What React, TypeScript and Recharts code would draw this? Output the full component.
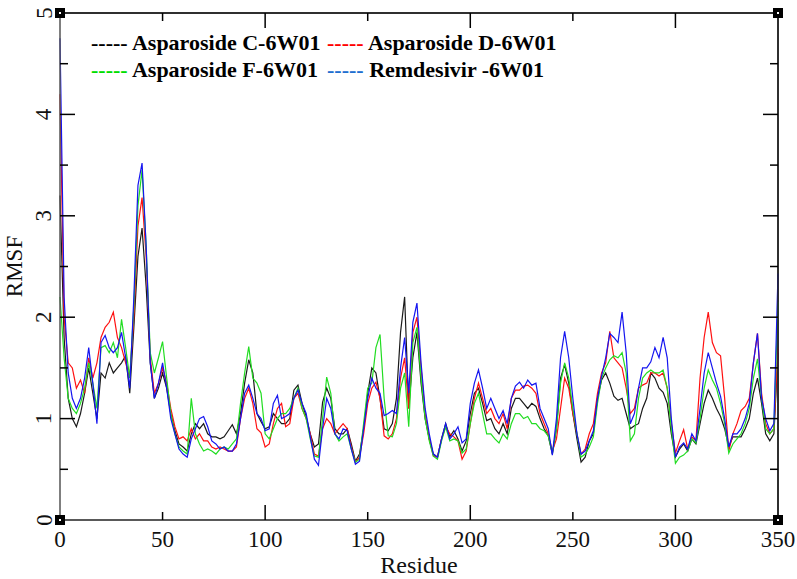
import { LineChart, Line, XAxis, YAxis, Legend, ReferenceDot, ReferenceLine } from "recharts";

const residues = [
  0, 2, 4, 6, 8, 10, 12, 14, 16, 18, 20, 22, 24,
  26, 28, 30, 32, 34, 36, 38, 40, 42, 44, 46, 48, 50,
  52, 54, 56, 58, 60, 62, 64, 66, 68, 70, 72, 74,
  76, 78, 80, 82, 84, 86, 88, 90, 92, 94, 96, 98,
  100, 102, 104, 106, 108, 110, 112, 114, 116, 118, 120, 122,
  124, 126, 128, 130, 132, 134, 136, 138, 140, 142, 144, 146,
  148, 150, 152, 154, 156, 158, 160, 162, 164, 166, 168, 170,
  172, 174, 176, 178, 180, 182, 184, 186, 188, 190, 192, 194,
  196, 198, 200, 202, 204, 206, 208, 210, 212, 214, 216, 218,
  220, 222, 224, 226, 228, 230, 232, 234, 236, 238, 240, 242,
  244, 246, 248, 250, 252, 254, 256, 258, 260, 262, 264, 266,
  268, 270, 272, 274, 276, 278, 280, 282, 284, 286, 288, 290,
  292, 294, 296, 298, 300, 302, 304, 306, 308, 310, 312, 314,
  316, 318, 320, 322, 324, 326, 328, 330, 332, 334, 336, 338,
  340, 342, 344, 346, 348, 350,
];

// Asparoside C-6W01 (black)
const aspC = [
  3.2, 1.8, 1.2, 1.0, 0.92, 1.05, 1.25, 1.5, 1.25, 1.0, 1.45, 1.4, 1.55,
  1.45, 1.5, 1.55, 1.62, 1.25, 1.9, 2.6, 2.88, 2.3, 1.55, 1.2, 1.3, 1.45,
  1.3, 1.05, 0.88, 0.75, 0.72, 0.68, 0.85, 0.95, 0.9, 0.95, 0.85, 0.82,
  0.82, 0.8, 0.82, 0.88, 0.94, 0.85, 1.05, 1.35, 1.58, 1.45, 1.05, 0.97,
  0.9, 0.92, 1.05, 1.0, 0.95, 0.95, 1.0, 1.28, 1.33, 1.15, 1.02, 0.85,
  0.72, 0.75, 1.16, 1.3, 1.2, 0.9, 0.85, 0.85, 0.9, 0.75, 0.58, 0.65,
  0.9, 1.25, 1.5, 1.45, 1.2, 0.9, 0.88, 0.95, 1.2, 1.85, 2.2, 1.1,
  1.6, 1.85, 1.35, 1.0, 0.8, 0.65, 0.62, 0.8, 0.95, 0.82, 0.88, 0.8,
  0.68, 0.78, 1.05, 1.25, 1.3, 1.15, 0.98, 1.0, 0.9, 0.85, 0.95, 0.85,
  1.1, 1.2, 1.2, 1.15, 1.1, 1.15, 1.12, 1.0, 0.9, 0.83, 0.65, 0.9,
  1.4, 1.53, 1.35, 1.05, 0.8, 0.57, 0.62, 0.78, 0.85, 1.2, 1.38, 1.45,
  1.35, 1.22, 1.18, 1.2, 1.05, 0.9, 0.93, 0.95, 1.1, 1.2, 1.45, 1.4,
  1.3, 1.26, 1.15, 0.85, 0.62, 0.7, 0.75, 0.68, 0.8, 0.75, 0.95, 1.15,
  1.28, 1.2, 1.1, 1.02, 0.9, 0.72, 0.82, 0.82, 0.82, 0.9, 1.0, 1.25,
  1.4, 1.15, 0.85, 0.78, 0.85, 1.65,
];

// Asparoside D-6W01 (red)
const aspD = [
  4.2, 2.0, 1.55, 1.5, 1.3, 1.38, 1.25, 1.6, 1.4, 1.55, 1.8, 1.9, 1.95,
  2.05, 1.8, 1.7, 1.55, 1.4, 2.0, 2.9, 3.18, 2.6, 1.6, 1.25, 1.35, 1.5,
  1.35, 1.1, 0.92, 0.8, 0.82, 0.78, 0.9, 0.8, 0.85, 0.78, 0.78, 0.72,
  0.7, 0.72, 0.7, 0.68, 0.68, 0.72, 1.0, 1.2, 1.3, 1.15, 0.9, 0.86,
  0.72, 0.75, 0.95, 1.1, 1.15, 0.92, 0.95, 1.2, 1.25, 1.1, 1.0, 0.85,
  0.65, 0.63, 0.9, 1.0, 0.95, 0.85, 0.9, 0.95, 0.9, 0.72, 0.57, 0.62,
  0.85, 1.15, 1.3, 1.36, 1.2, 0.83, 0.8, 0.85, 1.0, 1.4, 1.6, 1.1,
  1.85, 2.0, 1.5, 1.05, 0.8, 0.63, 0.62, 0.8, 0.92, 0.85, 0.82, 0.78,
  0.6, 0.68, 0.95, 1.2, 1.35, 1.2, 1.05, 1.1, 1.0, 0.95, 1.05, 0.9,
  1.2, 1.28, 1.28, 1.32, 1.33, 1.3, 1.25, 1.05, 0.95, 0.85, 0.68, 0.8,
  1.1, 1.4, 1.3, 1.05, 0.85, 0.65, 0.7, 0.85, 0.95, 1.25, 1.45, 1.55,
  1.86, 1.6, 1.55, 1.5, 1.3, 1.05, 1.1, 1.3, 1.33, 1.35, 1.45, 1.45,
  1.42, 1.45, 1.3, 0.95, 0.66, 0.78, 0.89, 0.7, 0.82, 0.78, 1.4, 1.8,
  2.05, 1.75, 1.65, 1.62, 1.2, 0.68, 0.85, 0.95, 1.08, 1.12, 1.2, 1.55,
  1.84, 1.25, 0.95, 0.85, 0.9, 1.7,
];

// Asparoside F-6W01 (green)
const aspF = [
  2.2, 1.6, 1.2, 1.1, 1.05, 1.15, 1.3, 1.55, 1.35, 1.1, 1.7, 1.72, 1.65,
  1.75, 1.6, 1.98, 1.7, 1.4, 2.1, 3.1, 3.45, 2.7, 1.65, 1.45, 1.6, 1.76,
  1.4, 1.05, 0.85, 0.72, 0.68, 0.65, 1.2, 0.85, 0.75, 0.68, 0.7, 0.68,
  0.65, 0.7, 0.72, 0.7, 0.75, 0.8, 1.15, 1.45, 1.71, 1.4, 1.35, 1.25,
  0.85, 0.8, 0.9, 1.0, 1.05, 1.05, 1.1, 1.2, 1.3, 1.1, 1.0, 0.8,
  0.63, 0.62, 1.0, 1.41, 1.25, 0.85, 0.78, 0.82, 0.85, 0.7, 0.57, 0.6,
  0.95, 1.3, 1.35, 1.7, 1.83, 1.2, 0.83, 0.82, 0.95, 1.3, 1.45, 0.92,
  1.75, 1.9, 1.4, 1.0, 0.78, 0.63, 0.6, 0.78, 0.92, 0.78, 0.8, 0.78,
  0.66, 0.7, 0.95, 1.15, 1.25, 1.05, 0.85, 0.85, 0.8, 0.76, 0.85, 0.8,
  0.95, 1.05, 1.05, 1.0, 1.02, 0.95, 0.95, 0.9, 0.88, 0.83, 0.66, 0.9,
  1.35, 1.55, 1.4, 1.1, 0.85, 0.62, 0.65, 0.72, 0.82, 1.15, 1.4, 1.5,
  1.58, 1.62, 1.6, 1.65, 1.45, 0.78, 0.85, 1.2, 1.4, 1.45, 1.48, 1.45,
  1.45, 1.48, 1.3, 0.9, 0.56, 0.62, 0.64, 0.68, 0.8, 0.76, 1.0, 1.3,
  1.48, 1.38, 1.3, 1.15, 0.95, 0.66, 0.75, 0.8, 0.85, 0.95, 1.1, 1.4,
  1.59, 1.2, 0.9, 0.85, 0.9, 2.15,
];

// Remdesivir -6W01 (blue)
const remd = [
  4.75, 2.2, 1.45, 1.2, 1.1, 1.2, 1.4, 1.7, 1.35, 0.95, 1.75, 1.82, 1.7,
  1.65, 1.7, 1.85, 1.6, 1.3, 2.2, 3.3, 3.52, 2.7, 1.55, 1.2, 1.35, 1.55,
  1.3, 1.0, 0.85, 0.7, 0.65, 0.62, 0.8, 0.9, 1.0, 1.02, 0.92, 0.78,
  0.75, 0.7, 0.72, 0.68, 0.68, 0.75, 1.0, 1.25, 1.33, 1.2, 1.05, 1.0,
  0.88, 0.9, 1.15, 1.23, 1.0, 1.02, 1.05, 1.2, 1.28, 1.15, 1.05, 0.82,
  0.6, 0.54, 0.9, 1.2, 1.1, 0.85, 0.8, 0.9, 0.88, 0.7, 0.55, 0.58,
  0.9, 1.2, 1.4, 1.3, 1.25, 1.03, 1.05, 1.08, 1.05, 1.5, 1.8, 1.25,
  1.95, 2.14, 1.55, 1.1, 0.85, 0.65, 0.62, 0.8, 0.95, 0.8, 0.85, 0.92,
  0.76, 0.8, 1.15, 1.35, 1.48, 1.3, 1.1, 1.2, 1.1, 1.0, 1.08, 0.95,
  1.2, 1.32, 1.36, 1.3, 1.38, 1.33, 1.35, 1.1, 1.0, 0.9, 0.64, 1.0,
  1.6, 1.86, 1.6, 1.2, 0.85, 0.65, 0.68, 0.78, 0.88, 1.2, 1.42, 1.6,
  1.84, 1.8, 1.75, 2.05, 1.65, 0.95, 1.05, 1.3, 1.5, 1.5, 1.56, 1.7,
  1.6, 1.8, 1.6, 1.0, 0.62, 0.72, 0.76, 0.7, 0.85, 0.78, 1.1, 1.45,
  1.65, 1.5, 1.35, 1.22, 1.0, 0.72, 0.85, 0.85, 0.9, 1.0, 1.15, 1.55,
  1.84, 1.2, 1.0, 0.88, 0.95, 2.43,
];

const xTicks = [0, 50, 100, 150, 200, 250, 300, 350];
const yTicks = [0, 0.5, 1, 1.5, 2, 2.5, 3, 3.5, 4, 4.5, 5];

const series = [
  { key: "c", name: "Asparoside C-6W01", color: "#1a1a1a", legendColor: "#000000" },
  { key: "d", name: "Asparoside D-6W01", color: "#ff1010", legendColor: "#ff0000" },
  { key: "f", name: "Asparoside F-6W01", color: "#22dd22", legendColor: "#00dd00" },
  { key: "r2", name: "Remdesivir -6W01", color: "#1515f0", legendColor: "#1f6fd0" },
];

const data = residues.map((r, i) => ({ r, c: aspC[i], d: aspD[i], f: aspF[i], r2: remd[i] }));

const FONT = "'Liberation Serif', 'Times New Roman', serif";
const AXIS = "#222";

// chart box: 797x579, margin top 12 + top axis 1, right 18 + right axis 1, left axis 60, bottom axis 59
const PLOT = { left: 60, right: 778, top: 13, bottom: 520 };
const X_MAX = 350;
const Y_MAX = 5;
const px = (v: number) => PLOT.left + (v / X_MAX) * (PLOT.right - PLOT.left);
const py = (v: number) => PLOT.bottom - (v / Y_MAX) * (PLOT.bottom - PLOT.top);

const innerX = xTicks.filter((v) => v > 0 && v < X_MAX);
const innerY = yTicks.filter((v) => v > 0 && v < Y_MAX);
const xTickLen = (v: number) => (v % 100 === 0 ? 15 : 8);
const yTickLen = (v: number) => (Number.isInteger(v) ? 15 : 8);

function BottomTick({ x, y, payload }: any) {
  return (
    <text x={x} y={y + 27} textAnchor="middle" fontFamily={FONT} fontSize={23} fill="#111">
      {payload.value}
    </text>
  );
}

function LeftTick({ x, y, payload }: any) {
  const v = payload.value;
  if (!Number.isInteger(v)) return <g />;
  return (
    <text
      x={x - 16}
      y={y}
      transform={`rotate(-90, ${x - 16}, ${y})`}
      textAnchor="middle"
      dominantBaseline="central"
      fontFamily={FONT}
      fontSize={23}
      fill="#111"
    >
      {v}
    </text>
  );
}

function CornerSquare({ cx, cy }: any) {
  return (
    <g>
      <rect x={cx - 5} y={cy - 5} width={10} height={10} fill="#000" />
      <rect x={cx - 1} y={cy - 1} width={2} height={2} fill="#fff" />
    </g>
  );
}

function LegendBox() {
  return (
    <div
      style={{
        display: "grid",
        gridTemplateColumns: "236px auto",
        fontFamily: FONT,
        fontWeight: "bold",
        fontSize: 22,
        lineHeight: "27px",
        color: "#000",
        whiteSpace: "nowrap",
      }}
    >
      {series.map((s) => (
        <div key={s.key}>
          <span style={{ color: s.legendColor }}>-----</span> {s.name}
        </div>
      ))}
    </div>
  );
}

// inward tick marks on all four sides of the frame
function FrameTicks() {
  return (
    <svg
      width={797}
      height={579}
      style={{ position: "absolute", left: 0, top: 0, pointerEvents: "none" }}
    >
      <g stroke="#000" strokeWidth={1.5}>
        {innerX.map((v) => (
          <line key={`b${v}`} x1={px(v)} y1={PLOT.bottom} x2={px(v)} y2={PLOT.bottom - xTickLen(v)} />
        ))}
        {innerX.map((v) => (
          <line key={`t${v}`} x1={px(v)} y1={PLOT.top} x2={px(v)} y2={PLOT.top + xTickLen(v)} />
        ))}
        {innerY.map((v) => (
          <line key={`l${v}`} x1={PLOT.left} y1={py(v)} x2={PLOT.left + yTickLen(v)} y2={py(v)} />
        ))}
        {innerY.map((v) => (
          <line key={`r${v}`} x1={PLOT.right} y1={py(v)} x2={PLOT.right - yTickLen(v)} y2={py(v)} />
        ))}
      </g>
    </svg>
  );
}

export default function App() {
  return (
    <div style={{ position: "absolute", left: 0, top: 0, width: 797, height: 579, background: "#fff" }}>
      <LineChart
        width={797}
        height={579}
        data={data}
        margin={{ top: 12, right: 18, bottom: 0, left: 0 }}
      >
        <XAxis
          xAxisId="bottom"
          dataKey="r"
          type="number"
          domain={[0, X_MAX]}
          ticks={xTicks}
          height={59}
          tickSize={0}
          tickMargin={0}
          tickLine={false}
          tick={<BottomTick />}
          axisLine={{ stroke: AXIS, strokeWidth: 1.5 }}
          interval={0}
          label={{
            content: (props: any) => {
              const vb = props.viewBox;
              return (
                <text x={vb.x + vb.width / 2} y={vb.y + 53} textAnchor="middle" fontFamily={FONT} fontSize={24} fill="#111">
                  Residue
                </text>
              );
            },
          }}
        />
        <XAxis
          xAxisId="top"
          orientation="top"
          dataKey="r"
          type="number"
          domain={[0, X_MAX]}
          height={1}
          tick={false}
          tickLine={false}
          axisLine={{ stroke: AXIS, strokeWidth: 1.5 }}
        />
        <YAxis
          yAxisId="left"
          type="number"
          domain={[0, Y_MAX]}
          ticks={yTicks}
          width={60}
          tickSize={0}
          tickMargin={0}
          tickLine={false}
          tick={<LeftTick />}
          axisLine={{ stroke: "#555", strokeWidth: 1.5 }}
          interval={0}
          label={{
            content: (props: any) => {
              const vb = props.viewBox;
              const cx = 14;
              const cy = vb.y + vb.height / 2;
              return (
                <text
                  x={cx}
                  y={cy}
                  transform={`rotate(-90, ${cx}, ${cy})`}
                  textAnchor="middle"
                  dominantBaseline="central"
                  fontFamily={FONT}
                  fontSize={23}
                  fill="#111"
                >
                  RMSF
                </text>
              );
            },
          }}
        />
        <YAxis
          yAxisId="right"
          orientation="right"
          type="number"
          domain={[0, Y_MAX]}
          width={1}
          tick={false}
          tickLine={false}
          axisLine={{ stroke: AXIS, strokeWidth: 1.5 }}
        />
        <Legend
          layout="horizontal"
          verticalAlign="middle"
          align="center"
          content={() => <LegendBox />}
          wrapperStyle={{ top: 29, left: 91, width: "auto" }}
        />
        <ReferenceLine xAxisId="bottom" yAxisId="left" y={Y_MAX} stroke={AXIS} strokeWidth={1.5} ifOverflow="visible" />
        <ReferenceLine xAxisId="bottom" yAxisId="left" x={X_MAX} stroke={AXIS} strokeWidth={1.5} ifOverflow="visible" />
        <Line xAxisId="bottom" yAxisId="left" dataKey="c" name={series[0].name} stroke={series[0].color} strokeWidth={1.2} dot={false} isAnimationActive={false} />
        <Line xAxisId="bottom" yAxisId="left" dataKey="d" name={series[1].name} stroke={series[1].color} strokeWidth={1.2} dot={false} isAnimationActive={false} />
        <Line xAxisId="bottom" yAxisId="left" dataKey="f" name={series[2].name} stroke={series[2].color} strokeWidth={1.2} dot={false} isAnimationActive={false} />
        <Line xAxisId="bottom" yAxisId="left" dataKey="r2" name={series[3].name} stroke={series[3].color} strokeWidth={1.2} dot={false} isAnimationActive={false} />
        <ReferenceDot xAxisId="bottom" yAxisId="left" x={0} y={0} ifOverflow="visible" shape={<CornerSquare />} />
        <ReferenceDot xAxisId="bottom" yAxisId="left" x={X_MAX} y={0} ifOverflow="visible" shape={<CornerSquare />} />
        <ReferenceDot xAxisId="bottom" yAxisId="left" x={0} y={Y_MAX} ifOverflow="visible" shape={<CornerSquare />} />
        <ReferenceDot xAxisId="bottom" yAxisId="left" x={X_MAX} y={Y_MAX} ifOverflow="visible" shape={<CornerSquare />} />
      </LineChart>
      <FrameTicks />
    </div>
  );
}
